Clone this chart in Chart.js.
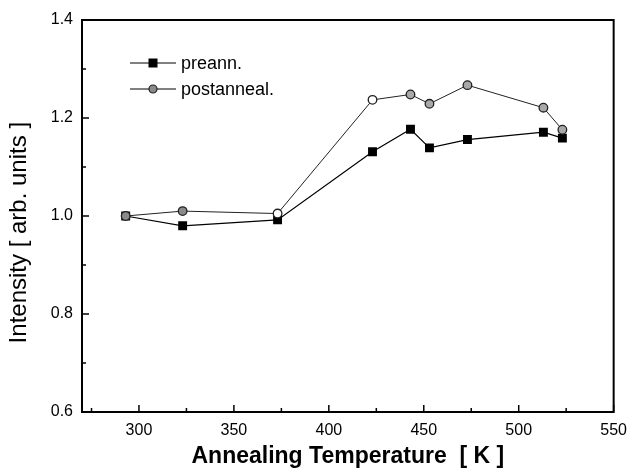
<!DOCTYPE html>
<html>
<head>
<meta charset="utf-8">
<script src="https://cdn.jsdelivr.net/npm/chart.js@4.4.1/dist/chart.umd.min.js"></script>
<style>
  html, body { margin: 0; padding: 0; background: #fff; }
  #wrap { width: 636px; height: 474px; position: relative; }
</style>
</head>
<body>
<div id="wrap"><canvas id="c" width="636" height="474"></canvas></div>
<script>
// ---- Data ----
const temperatures = [293, 323, 373, 423, 443, 453, 473, 513, 523];
const preann     = [1.000, 0.980, 0.992, 1.131, 1.177, 1.139, 1.156, 1.171, 1.159];
const postanneal = [1.000, 1.010, 1.005, 1.237, 1.248, 1.229, 1.267, 1.221, 1.176];
const seriesNames = ['preann.', 'postanneal.'];
const xTickValues = [275, 300, 325, 350, 375, 400, 425, 450, 475, 500, 525, 550];
const xTickLabels = ['300', '350', '400', '450', '500', '550'];
const yTickValues = [0.6, 0.7, 0.8, 0.9, 1.0, 1.1, 1.2, 1.3, 1.4];
const yTickLabels = ['0.6', '0.8', '1.0', '1.2', '1.4'];
// marker fill per point of the circle series (some appear hollow)
const postFill = ['#8a8a8a', '#8a8a8a', '#ffffff', '#ffffff', '#a8a8a8', '#a8a8a8', '#a8a8a8', '#a8a8a8', '#a8a8a8'];

const FONT = "'Liberation Sans', Arial, sans-serif";

const toXY = (xs, ys) => xs.map((x, i) => ({ x: x, y: ys[i] }));

const frameAndTicks = {
  id: 'frameAndTicks',
  afterDatasetsDraw(chart) {
    const { ctx, chartArea: a, scales } = chart;
    ctx.save();
    ctx.strokeStyle = '#000';
    ctx.lineWidth = 2;
    ctx.strokeRect(a.left, a.top, a.right - a.left, a.bottom - a.top);
    ctx.lineWidth = 1.5;
    // x ticks (inward from bottom)
    xTickValues.forEach(v => {
      const px = scales.x.getPixelForValue(v);
      const major = xTickLabels.includes(String(v));
      const len = major ? 7 : 4;
      ctx.beginPath();
      ctx.moveTo(px, a.bottom);
      ctx.lineTo(px, a.bottom - len);
      ctx.stroke();
    });
    // y ticks (inward from left)
    yTickValues.forEach(v => {
      const py = scales.y.getPixelForValue(v);
      const major = yTickLabels.includes(v.toFixed(1));
      const len = major ? 7 : 4;
      ctx.beginPath();
      ctx.moveTo(a.left, py);
      ctx.lineTo(a.left + len, py);
      ctx.stroke();
    });

    // legend
    const ds = chart.data.datasets;
    const lx = a.left + 48, ly = a.top + 43, rowH = 26;
    ds.forEach((d, i) => {
      const y = ly + i * rowH;
      ctx.strokeStyle = '#000';
      ctx.lineWidth = 1;
      ctx.beginPath();
      ctx.moveTo(lx, y);
      ctx.lineTo(lx + 46, y);
      ctx.stroke();
      const cx = lx + 23;
      if (i === 0) {
        ctx.fillStyle = '#000';
        ctx.fillRect(cx - 4.5, y - 4.5, 9, 9);
      } else {
        ctx.beginPath();
        ctx.arc(cx, y, 4, 0, Math.PI * 2);
        ctx.fillStyle = '#8a8a8a';
        ctx.fill();
        ctx.lineWidth = 1.2;
        ctx.strokeStyle = '#222';
        ctx.stroke();
      }
      ctx.fillStyle = '#000';
      ctx.font = '18px ' + FONT;
      ctx.textBaseline = 'middle';
      ctx.textAlign = 'left';
      ctx.fillText(seriesNames[i], lx + 51, y + 1);
    });
    ctx.restore();
  }
};

new Chart(document.getElementById('c'), {
  type: 'scatter',
  data: {
    datasets: [
      {
        label: seriesNames[0],
        data: toXY(temperatures, preann),
        showLine: true,
        borderColor: '#000',
        borderWidth: 1.2,
        pointStyle: 'rect',
        pointRadius: 6.3,
        pointBackgroundColor: '#000',
        pointBorderColor: '#000',
        pointBorderWidth: 0,
        order: 2
      },
      {
        label: seriesNames[1],
        data: toXY(temperatures, postanneal),
        showLine: true,
        borderColor: '#222',
        borderWidth: 1,
        pointStyle: 'circle',
        pointRadius: 4.3,
        pointBackgroundColor: postFill,
        pointBorderColor: '#222',
        pointBorderWidth: 1.3,
        order: 1
      }
    ]
  },
  options: {
    responsive: false,
    animation: false,
    events: [],
    layout: { padding: { left: 0, right: 16, top: 20, bottom: 0 } },
    plugins: {
      legend: { display: false },
      tooltip: { enabled: false }
    },
    scales: {
      x: {
        type: 'linear',
        min: 270,
        max: 550,
        afterBuildTicks(scale) { scale.ticks = xTickValues.map(v => ({ value: v })); },
        afterFit(scale) { scale.height = 62; },
        grid: { display: false, drawTicks: false },
        border: { display: false },
        ticks: {
          autoSkip: false,
          maxRotation: 0,
          padding: 9,
          color: '#000',
          font: { family: FONT, size: 16 },
          callback(v) { const s = String(v); return xTickLabels.includes(s) ? s : ''; }
        },
        title: {
          display: true,
          text: 'Annealing Temperature  [ K ]',
          color: '#000',
          font: { family: FONT, size: 23, weight: 'bold' },
          padding: { top: 4, bottom: 4 }
        }
      },
      y: {
        type: 'linear',
        min: 0.6,
        max: 1.4,
        afterBuildTicks(scale) { scale.ticks = yTickValues.map(v => ({ value: v })); },
        afterFit(scale) { scale.width = 82; },
        grid: { display: false, drawTicks: false },
        border: { display: false },
        ticks: {
          autoSkip: false,
          padding: 9,
          color: '#000',
          font: { family: FONT, size: 16 },
          callback(v) { const s = Number(v).toFixed(1); return yTickLabels.includes(s) ? s : ''; }
        },
        title: {
          display: true,
          text: 'Intensity [ arb. units ]     ',
          color: '#000',
          font: { family: FONT, size: 24 },
          padding: { top: 5, bottom: 0 }
        }
      }
    }
  },
  plugins: [frameAndTicks]
});
</script>
</body>
</html>
